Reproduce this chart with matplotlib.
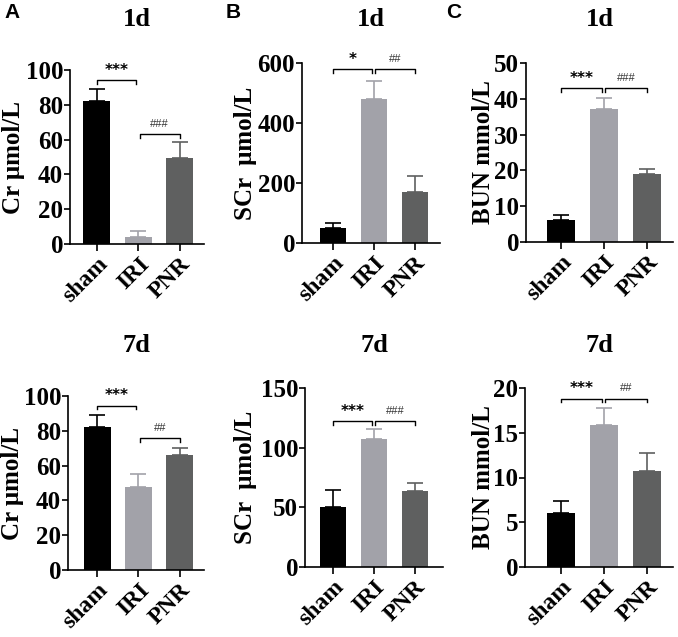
import matplotlib
matplotlib.use("Agg")
import matplotlib.pyplot as plt

W, H = 678, 637

groups = ["sham", "IRI", "PNR"]
colors = ["#000000", "#a2a2a9", "#5f6060"]

cr1_mean = [82.0, 4.3, 49.4]
cr1_err = [7.0, 3.2, 9.3]
scr1_mean = [51.0, 480.0, 171.0]
scr1_err = [17.0, 61.0, 53.0]
bun1_mean = [6.1, 37.1, 19.0]
bun1_err = [1.4, 3.0, 1.3]
cr7_mean = [82.0, 47.9, 65.9]
cr7_err = [7.1, 7.1, 4.1]
scr7_mean = [50.5, 107.0, 63.6]
scr7_err = [14.0, 8.5, 6.6]
bun7_mean = [6.06, 15.85, 10.77]
bun7_err = [1.3, 1.9, 2.0]

ylabels = ["Cr μmol/L", "SCr  μmol/L", "BUN mmol/L"]
titles = ["1d", "7d"]

# significance: (i, j, y, label)
sig_cr1 = [(0, 1, 94, "***"), (1, 2, 63, "###")]
sig_scr1 = [(0, 1, 579, "*"), (1, 2, 579, "##")]
sig_bun1 = [(0, 1, 42.9, "***"), (1, 2, 42.9, "###")]
sig_cr7 = [(0, 1, 94.4, "***"), (1, 2, 75.7, "##")]
sig_scr7 = [(0, 1, 122, "***"), (1, 2, 122, "###")]
sig_bun7 = [(0, 1, 18.8, "***"), (1, 2, 18.8, "##")]

panels = [
    # data, err, sig, ylabel idx, (x0,x1,ytop,ybot), xlim, ymax, step, label right edge px
    (cr1_mean, cr1_err, sig_cr1, 0, (70, 204, 70, 244), (-0.65, 2.58), 100, 20, 25),
    (scr1_mean, scr1_err, sig_scr1, 1, (302, 440, 63, 243), (-0.76, 2.61), 600, 200, 257),
    (bun1_mean, bun1_err, sig_bun1, 2, (526, 673, 63, 242), (-0.81, 2.6), 50, 10, 495),
    (cr7_mean, cr7_err, sig_cr7, 0, (68, 204, 396, 570), (-0.7, 2.58), 100, 20, 24),
    (scr7_mean, scr7_err, sig_scr7, 1, (305, 443, 388, 567), (-0.68, 2.68), 150, 50, 257),
    (bun7_mean, bun7_err, sig_bun7, 2, (525, 673, 388, 567), (-0.84, 2.6), 20, 5, 495),
]

serif = "Liberation Serif"
plt.rcParams["font.family"] = [serif, "DejaVu Serif"]
plt.rcParams["font.weight"] = "bold"

fig = plt.figure(figsize=(W / 100, H / 100), dpi=100)

for k, (mean, err, sig, yl, (x0, x1, yt, yb), xlim, ymax, step, lr) in enumerate(panels):
    ax = fig.add_axes([x0 / W, 1 - yb / H, (x1 - x0) / W, (yb - yt) / H])
    xs = list(range(len(groups)))
    ax.bar(xs, mean, width=0.65, color=colors, zorder=2)
    for x, m, e, c in zip(xs, mean, err, colors):
        ax.errorbar([x], [m], yerr=[[0], [e]], fmt="none", ecolor=c,
                    elinewidth=1.2, capsize=6, capthick=1.2, zorder=1)
    ax.set_xlim(*xlim)
    ax.set_ylim(0, ymax)
    ax.set_yticks(list(range(0, ymax + 1, step)))
    ax.set_xticks(xs)
    ax.set_xticklabels(groups, rotation=45, ha="right", rotation_mode="anchor")
    ax.tick_params(axis="x", labelsize=17, direction="out", length=5, width=1.2, pad=2)
    ax.tick_params(axis="y", labelsize=18, direction="out", length=4, width=1.2, pad=1)
    ax.spines["top"].set_visible(False)
    ax.spines["right"].set_visible(False)
    for s in ("left", "bottom"):
        ax.spines[s].set_linewidth(1.2)
    ax.set_ylabel(ylabels[yl], fontsize=18, fontweight="bold")
    ax.yaxis.set_label_coords((lr - x0) / (x1 - x0), 0.5)

    rng = ymax
    for (i, j, y, lab) in sig:
        a = i + (0.03 if i == 1 else 0.0)
        b = j - (0.05 if j == 1 else 0.0)
        h = rng * 0.02
        ax.plot([a, a, b, b], [y - h, y, y, y - h], color="black", lw=1.0,
                clip_on=False, zorder=3)
        if "*" in lab:
            ax.text((a + b) / 2, y + rng * 0.015, lab, ha="center", va="bottom",
                    fontsize=11, fontweight="bold", fontfamily="DejaVu Sans")
        else:
            ax.text((a + b) / 2, y + rng * 0.03, lab, ha="center", va="bottom",
                    fontsize=8, fontweight="normal", color="#333333",
                    fontfamily="Liberation Sans")

    cx = (x0 + x1) / 2
    ty = 20 if k < 3 else 345
    fig.text(cx / W, 1 - ty / H, titles[0 if k < 3 else 1], ha="center", va="center",
             fontsize=19, fontweight="bold")

for lx, letter in [(4, "A"), (226, "B"), (446, "C")]:
    fig.text(lx / W, 1 - 12 / H, letter, ha="left", va="center",
             fontfamily="Liberation Sans", fontweight="bold", fontsize=15)

fig.savefig("out.png", dpi=100)
